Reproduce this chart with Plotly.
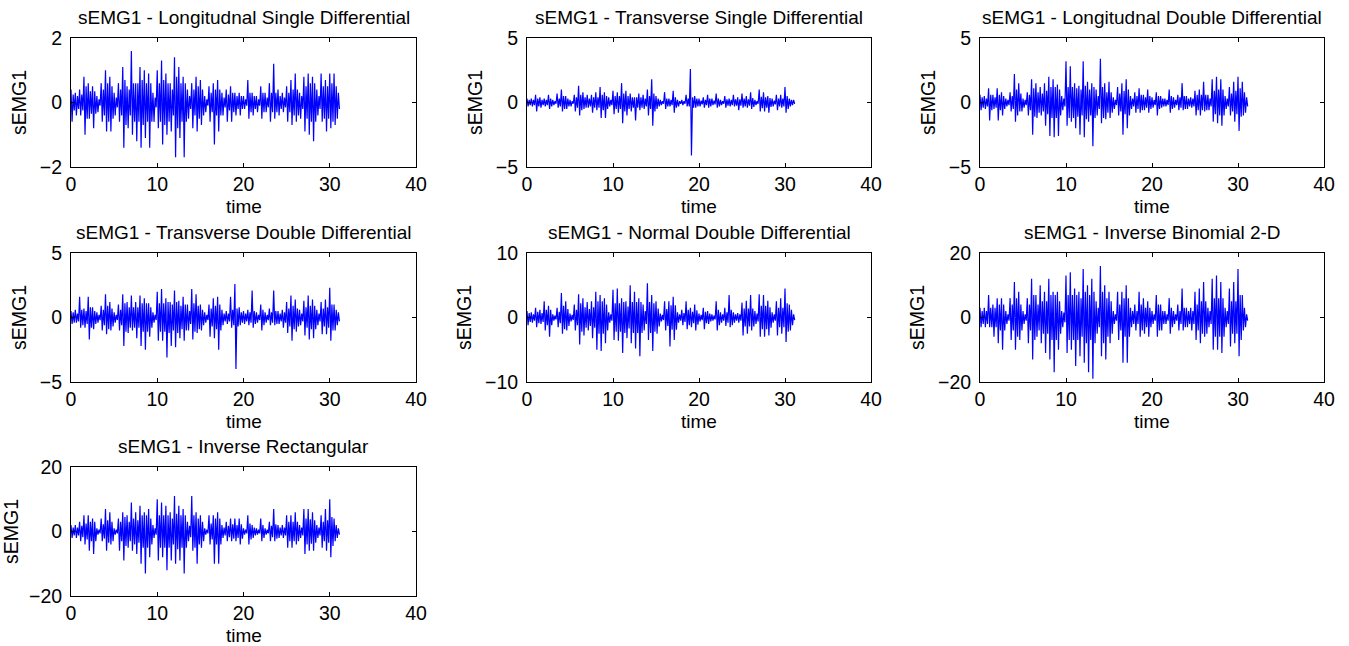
import plotly.graph_objects as go
import numpy as np

# sample times of the read-off bins (seconds)
bin_times = [i * 0.5 for i in range(63)]

titles = [
    "sEMG1 - Longitudnal Single Differential",
    "sEMG1 - Transverse Single Differential",
    "sEMG1 - Longitudnal Double Differential",
    "sEMG1 - Transverse Double Differential",
    "sEMG1 - Normal Double Differential",
    "sEMG1 - Inverse Binomial 2-D",
    "sEMG1 - Inverse Rectangular",
]

y_ranges = [2, 5, 5, 5, 10, 20, 20]
y_ticks = [[-2, 0, 2], [-5, 0, 5], [-5, 0, 5], [-5, 0, 5], [-10, 0, 10], [-20, 0, 20], [-20, 0, 20]]
x_ticks = [0, 10, 20, 30, 40]

# positive / negative spike excursions in each bin, and the dense-core amplitude
lsd_hi = [.4, .3, .4, .8, .6, .5, .2, .6, 1.0, .8, .3, .6, 1.1, .5, 1.6, .6, 1.1, 1.0, .9, .3, 1.0, 1.3, .9, .6, 1.4, 1.1, .8, .4, .6, .8, .7, .2, .5, .6, .7, .3, .4, .5, .3, .3, .2, .7, .3, .2, .5, .3, .6, 1.2, .4, .3, .5, .7, .9, .3, .8, .9, .8, .4, .9, .7, .9, .9, .3]
lsd_lo = [-.6, -.4, -.4, -1.0, -.5, -.8, -.3, -.6, -.9, -.9, -.4, -.6, -1.4, -.8, -1.0, -1.2, -1.4, -1.1, -1.4, -.6, -.8, -1.3, -1.0, -.9, -1.7, -1.1, -1.7, -.5, -.8, -.9, -.7, -.3, -.6, -1.3, -.9, -.4, -.6, -.6, -.4, -.4, -.2, -.5, -.4, -.3, -.5, -.3, -.6, -.5, -.4, -.3, -.6, -.7, -.6, -.5, -.9, -1.0, -1.2, -.4, -.6, -.9, -.8, -.7, -.2]
lsd_core = [.25, .2, .25, .5, .35, .35, .1, .4, .6, .5, .15, .4, .7, .4, .6, .6, .7, .6, .6, .15, .6, .7, .6, .4, .8, .6, .6, .2, .4, .5, .4, .1, .3, .4, .4, .15, .25, .3, .2, .2, .1, .3, .2, .1, .3, .15, .3, .3, .2, .15, .3, .4, .4, .2, .5, .6, .6, .2, .5, .5, .6, .5, .15]

tsd_hi = [.3, .3, .6, .4, .3, .6, .2, .7, 1.0, .5, .2, .6, 1.3, .8, .6, .6, .8, 1.2, .8, .4, .9, .8, 1.5, .9, .7, .4, .7, .6, 1.0, 1.8, .5, .2, .8, .3, .9, .2, .2, .6, 2.6, .5, .3, .4, .6, .3, .7, .2, .5, .3, .6, .4, .7, .5, .8, .2, 1.0, .8, .5, .3, .6, .6, 1.2, .3, .2]
tsd_lo = [-.3, -.3, -.7, -.4, -.3, -.5, -.2, -.4, -.7, -.5, -.3, -.7, -1.0, -.5, -.4, -.8, -.6, -1.2, -1.2, -.3, -.9, -.8, -1.6, -1.0, -.7, -1.4, -.6, -.5, -1.0, -1.8, -.5, -.2, -.5, -.3, -.8, -.3, -.2, -.3, -4.1, -.4, -.3, -.4, -.4, -.2, -.4, -.2, -.4, -.3, -.3, -.6, -.4, -.4, -.5, -.2, -.7, -.7, -.8, -.3, -.6, -.4, -.8, -.3, -.1]
tsd_core = [.2, .2, .3, .2, .2, .3, .1, .3, .5, .3, .1, .4, .6, .4, .3, .4, .4, .6, .5, .2, .5, .5, .7, .5, .4, .4, .4, .3, .5, .7, .3, .1, .3, .2, .4, .1, .1, .3, .4, .3, .15, .2, .3, .15, .3, .1, .25, .2, .25, .25, .3, .25, .35, .1, .45, .4, .35, .15, .3, .3, .5, .2, .1]

ldd_hi = [.6, .5, 1.1, .6, 1.1, .8, .3, .8, 2.2, 1.5, .3, .8, 1.8, 1.5, 1.2, 1.5, 2.0, 1.8, 1.4, .5, 3.2, 2.8, 1.5, 1.3, 3.2, 1.6, 1.5, 1.0, 3.4, 1.5, 1.6, .4, 1.2, 1.5, 1.8, .5, .8, 1.1, .6, 1.0, .4, .8, .5, .3, 1.0, .4, .6, 1.5, .5, .4, .9, 1.0, 1.6, .6, 1.8, 2.0, 1.8, .5, 1.2, 1.6, 2.0, 1.6, .4]
ldd_lo = [-.6, -.5, -1.4, -.5, -1.4, -1.0, -.3, -.7, -1.5, -.7, -.4, -1.0, -2.5, -1.2, -1.0, -1.8, -2.6, -2.7, -2.6, -.6, -1.8, -1.5, -2.0, -2.5, -2.7, -1.5, -3.4, -1.0, -1.6, -1.3, -1.2, -.5, -1.0, -2.5, -2.0, -.5, -.8, -.8, -.6, -.8, -.4, -1.0, -.4, -.3, -.8, -.4, -.6, -.6, -.5, -.4, -1.0, -1.0, -.7, -.6, -1.5, -1.6, -1.8, -.5, -1.0, -1.5, -2.2, -1.0, -.3]
ldd_core = [.4, .3, .6, .4, .6, .5, .2, .5, 1.0, .7, .2, .6, 1.1, .8, .7, .9, 1.2, 1.2, 1.0, .3, 1.2, 1.2, 1.1, 1.0, 1.3, 1.0, 1.2, .5, 1.2, .8, .8, .2, .7, .9, 1.0, .3, .5, .6, .4, .5, .2, .5, .3, .2, .5, .2, .4, .5, .3, .3, .6, .6, .6, .3, .9, 1.0, 1.0, .3, .7, .9, 1.1, .8, .2]

tdd_hi = [.5, .6, 1.6, .7, 1.6, .8, .4, .9, 1.8, 1.2, .4, 1.0, 1.8, 1.2, 1.7, 1.2, 1.7, 1.5, 1.1, .4, 2.0, 2.2, 1.5, 1.2, 2.1, 1.3, 1.6, 1.0, 2.2, 1.8, 1.0, .4, 1.0, 1.5, 1.6, .6, .5, 1.6, 2.6, .8, .5, .6, 2.1, .4, 1.0, .4, .7, 2.1, .5, .6, 1.2, 1.7, 1.4, .6, 1.3, 1.7, 1.4, .6, 1.2, 1.4, 2.3, 1.0, .4]
tdd_lo = [-.5, -.4, -.8, -.8, -1.7, -.9, -.4, -1.0, -1.3, -1.0, -.4, -1.0, -2.2, -1.2, -1.0, -1.6, -2.2, -2.5, -1.5, -.4, -1.8, -1.8, -3.1, -2.2, -2.3, -1.6, -1.8, -1.0, -1.7, -1.2, -1.0, -.4, -1.5, -1.6, -2.5, -.6, -.5, -.8, -4.0, -.6, -.5, -.6, -.8, -.4, -1.0, -.4, -.6, -.6, -.5, -.8, -1.2, -1.8, -1.1, -.6, -1.4, -1.7, -1.6, -.6, -1.3, -1.3, -1.8, -1.0, -.3]
tdd_core = [.4, .3, .6, .5, .8, .5, .2, .6, .9, .7, .2, .6, 1.1, .8, .8, .8, 1.1, 1.1, .8, .2, 1.1, 1.1, 1.2, 1.0, 1.2, .9, 1.0, .5, 1.1, .9, .6, .2, .7, .9, 1.0, .3, .3, .6, .7, .4, .3, .4, .5, .2, .6, .2, .4, .5, .3, .4, .7, .9, .7, .3, .8, .9, .9, .3, .7, .8, 1.0, .6, .2]

ndd_hi = [1.0, .8, 1.5, 1.2, 2.5, 1.8, .5, 1.5, 3.8, 2.5, .6, 2.0, 3.6, 3.0, 2.4, 2.5, 4.0, 3.5, 3.0, .8, 4.3, 4.5, 3.0, 2.5, 5.0, 4.0, 3.0, 2.0, 5.3, 3.5, 2.5, .6, 2.5, 2.5, 3.2, .8, 1.2, 2.5, 1.5, 2.0, .6, 1.5, 1.0, .5, 2.5, .8, 1.5, 3.5, .8, .7, 2.3, 2.6, 3.5, 1.0, 3.6, 3.5, 2.6, .8, 2.5, 3.0, 4.5, 2.0, .5]
ndd_lo = [-1.2, -.8, -1.5, -1.0, -2.0, -3.0, -.5, -1.5, -2.5, -2.0, -.6, -2.0, -4.2, -2.8, -2.0, -3.2, -5.0, -5.2, -4.0, -.8, -3.5, -3.6, -5.5, -3.2, -4.0, -4.8, -6.0, -2.0, -3.5, -5.2, -2.5, -.6, -2.0, -4.5, -3.5, -.8, -1.2, -1.8, -1.5, -2.0, -.6, -1.8, -1.0, -.5, -2.0, -.8, -1.3, -1.5, -.8, -.8, -2.8, -2.5, -2.0, -1.0, -3.0, -3.0, -2.8, -.8, -2.8, -2.5, -3.8, -2.0, -.4]
ndd_core = [.7, .5, .9, .7, 1.2, 1.2, .3, .9, 1.8, 1.3, .4, 1.2, 2.2, 1.6, 1.3, 1.6, 2.5, 2.5, 2.0, .5, 2.2, 2.2, 2.4, 1.7, 2.4, 2.4, 2.4, 1.0, 2.4, 2.2, 1.4, .4, 1.3, 1.9, 1.9, .5, .7, 1.2, .9, 1.1, .4, .9, .6, .3, 1.2, .5, .8, 1.2, .5, .5, 1.4, 1.4, 1.4, .6, 1.8, 1.8, 1.6, .5, 1.5, 1.5, 2.2, 1.2, .3]

ib2d_hi = [3, 3, 7, 4, 6, 6, 2, 6, 11, 8, 2, 6, 12, 7, 10, 8, 12, 8, 8, 2, 13, 14, 9, 8, 15, 10, 12, 5, 16, 10, 8, 2, 8, 8, 10, 3, 4, 8, 6, 5, 2, 7, 4, 2, 6, 2, 4, 9, 3, 3, 8, 9, 11, 3, 12, 13, 11, 3, 9, 11, 15, 7, 1]
ib2d_lo = [-3, -3, -3, -6, -8, -10, -2, -7, -10, -7, -2, -8, -13, -6, -8, -11, -13, -17, -10, -3, -11, -10, -15, -12, -14, -17, -19, -5, -12, -13, -8, -2, -7, -14, -14, -3, -4, -6, -5, -6, -2, -6, -4, -2, -5, -2, -4, -4, -3, -4, -7, -8, -6, -3, -10, -10, -11, -3, -9, -8, -12, -4, -1]
ib2d_core = [2, 2, 3, 3, 4, 4, 1, 4, 6, 4, 1, 4, 7, 4, 5, 5, 7, 7, 5, 1.5, 7, 7, 7, 6, 8, 7, 8, 3, 8, 6, 5, 1, 4, 6, 6, 2, 2, 4, 3, 3, 1, 4, 2, 1, 3, 1, 2, 3, 2, 2, 4, 5, 5, 2, 6, 6, 6, 2, 5, 5, 7, 3, .5]

irect_hi = [2, 2, 3, 5, 5, 4, 1, 4, 7, 6, 1, 4, 6, 5, 9, 6, 8, 6, 7, 2, 10, 9, 8, 6, 11, 8, 7, 3, 11, 6, 5, 1, 5, 5, 6, 2, 3, 4, 4, 4, 1, 5, 2, 1, 4, 1, 3, 7, 2, 2, 5, 5, 6, 2, 7, 7, 6, 2, 5, 7, 10, 4, 1]
irect_lo = [-2, -2, -3, -4, -6, -7, -1, -3, -6, -4, -1, -6, -9, -5, -6, -7, -10, -13, -8, -2, -9, -8, -12, -9, -10, -9, -13, -3, -6, -10, -5, -1, -4, -10, -10, -2, -3, -3, -3, -4, -1, -4, -2, -1, -3, -1, -3, -3, -2, -2, -5, -5, -4, -2, -7, -6, -6, -2, -5, -6, -8, -3, -1]
irect_core = [1.2, 1.2, 1.8, 2.5, 3, 3, .6, 2.2, 3.5, 3, .6, 3, 4.5, 3, 4, 3.5, 5, 5, 4, 1, 5, 5, 5, 4, 5.5, 5, 5, 1.8, 5, 4, 3, .6, 2.5, 4, 4, 1.2, 1.8, 2.2, 2, 2.2, .6, 2.5, 1.2, .6, 2, .6, 1.8, 2.2, 1.2, 1.2, 3, 3, 3, 1.2, 4, 3.8, 3.5, 1.2, 3, 3.5, 4.5, 2, .5]

series = [
    (lsd_hi, lsd_lo, lsd_core), (tsd_hi, tsd_lo, tsd_core), (ldd_hi, ldd_lo, ldd_core),
    (tdd_hi, tdd_lo, tdd_core), (ndd_hi, ndd_lo, ndd_core), (ib2d_hi, ib2d_lo, ib2d_core),
    (irect_hi, irect_lo, irect_core),
]

# layout (pixels in a 1349x646 page)
W, H = 1349, 646
col_px = [(71, 416), (527, 871), (980, 1324)]
row_px = [(38, 167), (253, 382), (467, 596)]

FONT = "Liberation Sans, Arial, sans-serif"
fig = go.Figure()
annotations = []
for k, (hi, lo, core) in enumerate(series):
    r, c = divmod(k, 3)
    t = np.array(bin_times)
    n = len(t)
    xs = np.empty(4 * n)
    ys = np.empty(4 * n)
    xs[0::4] = t
    xs[1::4] = t + 0.125
    xs[2::4] = t + 0.25
    xs[3::4] = t + 0.375
    ys[0::4] = hi
    ys[1::4] = lo
    ys[2::4] = core
    ys[3::4] = -np.array(core)
    ax = "" if k == 0 else str(k + 1)
    fig.add_trace(go.Scatter(x=xs[:-2], y=ys[:-2], mode="lines",
                             line=dict(color="#0000FF", width=1.2),
                             xaxis="x" + ax, yaxis="y" + ax, showlegend=False,
                             hoverinfo="skip"))
    x0, x1 = col_px[c]
    y0, y1 = row_px[r]
    xd = [x0 / W, x1 / W]
    yd = [1 - y1 / H, 1 - y0 / H]
    common = dict(showline=True, linecolor="black", linewidth=1, mirror="ticks",
                  ticks="inside", ticklen=4, tickcolor="black", showgrid=False,
                  zeroline=False, automargin=False,
                  tickfont=dict(family=FONT, size=19.5, color="black"))
    fig.update_layout(**{
        "xaxis" + ax: dict(domain=xd, range=[0, 40], tickvals=x_ticks,
                           anchor="y" + ax, ticklabelstandoff=0,
                           **common),
        "yaxis" + ax: dict(domain=yd, range=[-y_ranges[k], y_ranges[k]],
                           tickvals=y_ticks[k], anchor="x" + ax, ticklabelstandoff=4,
                           title=dict(text="sEMG1", standoff=8,
                                      font=dict(family=FONT, size=19.5, color="black")),
                           **common),
    })
    annotations.append(dict(text=titles[k], x=(x0 + x1) / 2 / W, y=1 - (y0 - 8) / H,
                            xref="paper", yref="paper", xanchor="center", yanchor="bottom",
                            showarrow=False, font=dict(family=FONT, size=19, color="black")))
    annotations.append(dict(text="time", x=(x0 + x1) / 2 / W, y=1 - (y1 + 39) / H,
                            xref="paper", yref="paper", xanchor="center", yanchor="middle",
                            borderpad=0, showarrow=False,
                            font=dict(family=FONT, size=19, color="black")))

fig.update_layout(width=W, height=H, margin=dict(l=0, r=0, t=0, b=0),
                  paper_bgcolor="white", plot_bgcolor="white",
                  annotations=annotations)
fig.write_html("out.html")
